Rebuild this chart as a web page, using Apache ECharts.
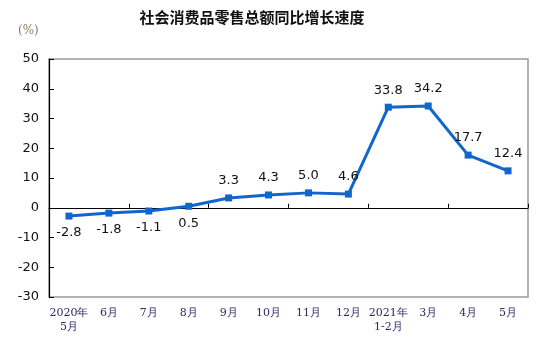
<!DOCTYPE html>
<html>
<head>
<meta charset="utf-8">
<script src="https://cdn.jsdelivr.net/npm/echarts@6/dist/echarts.min.js"></script>
<style>
  html, body { margin: 0; padding: 0; background: #fff; }
  #main { width: 554px; height: 352px; }
</style>
</head>
<body>
<div id="main"></div>
<script>
// 月份
let months = ['2020年\n5月', '6月', '7月', '8月', '9月', '10月', '11月', '12月', '2021年\n1-2月', '3月', '4月', '5月'];
// 同比增长 (%)
let growth = [-2.8, -1.8, -1.1, 0.5, 3.3, 4.3, 5.0, 4.6, 33.8, 34.2, 17.7, 12.4];
// 标签在点下方的个数
let belowCount = 4;

let chart = echarts.init(document.querySelector('#main'));

let data = growth.map((v, i) => {
    return {
        value: v,
        label: { position: i < belowCount ? 'bottom' : 'top' }
    };
});

let option = {
    animation: false,
    title: {
        text: '社会消费品零售总额同比增长速度',
        left: 247,
        top: 5,
        textAlign: 'center',
        textStyle: {
            fontFamily: 'Noto Sans CJK SC',
            fontSize: 15,
            fontWeight: 'bold',
            color: '#111'
        }
    },
    graphic: [{
        type: 'text',
        left: 18,
        top: 25,
        style: {
            text: '(%)',
            fontFamily: 'DejaVu Serif',
            fontSize: 12,
            fill: '#8a7a60'
        }
    }],
    grid: {
        left: 49,
        right: 26,
        top: 59,
        bottom: 55,
        show: true,
        borderColor: '#999',
        borderWidth: 1.5,
        containLabel: false
    },
    xAxis: [{
        type: 'category',
        data: months,
        boundaryGap: true,
        axisLine: { onZero: true, lineStyle: { color: '#000', width: 1.2 } },
        axisTick: { show: true, inside: true, length: 4, lineStyle: { color: '#000' } },
        axisLabel: { show: false },
        splitLine: { show: false }
    }, {
        type: 'category',
        data: months,
        position: 'bottom',
        boundaryGap: true,
        axisLine: { show: false },
        axisTick: { show: false },
        axisLabel: {
            show: true,
            interval: 0,
            margin: 9,
            fontFamily: 'DejaVu Serif',
            fontSize: 11,
            lineHeight: 14,
            color: '#2a2a66'
        }
    }],
    yAxis: {
        type: 'value',
        min: -30,
        max: 50,
        interval: 10,
        axisLine: { show: true, lineStyle: { color: '#000', width: 1.2 } },
        axisTick: { show: true, inside: true, length: 5, lineStyle: { color: '#000' } },
        axisLabel: {
            fontFamily: 'DejaVu Sans',
            fontSize: 13,
            color: '#111',
            margin: 10
        },
        splitLine: { show: false }
    },
    series: [{
        type: 'line',
        xAxisIndex: 0,
        data: data,
        symbol: 'rect',
        symbolSize: 7,
        itemStyle: { color: '#1166cc' },
        lineStyle: { color: '#1166cc', width: 3 },
        label: {
            show: true,
            distance: 7,
            fontFamily: 'DejaVu Sans',
            fontSize: 13,
            color: '#111',
            formatter: p => p.value.toFixed(1)
        }
    }]
};

chart.setOption(option);
</script>
</body>
</html>
